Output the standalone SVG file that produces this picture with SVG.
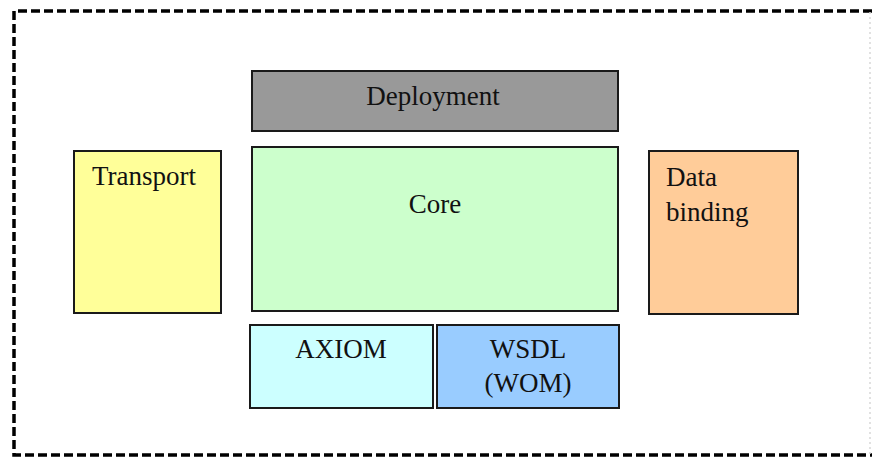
<svg xmlns="http://www.w3.org/2000/svg" width="874" height="457" viewBox="0 0 874 457">
  <style>
    .box { stroke: #1a1a1a; stroke-width: 2; }
    .lbl { font-family: "Liberation Serif", "Times New Roman", "DejaVu Serif", serif; font-size: 27px; fill: #111; }
    .mid { text-anchor: middle; }
    .frame { fill: none; stroke: #000; stroke-width: 3.5; stroke-dasharray: 9 4; }
  </style>
  <rect width="874" height="457" fill="#ffffff"/>

  <!-- outer dashed boundary -->
  <path class="frame" d="M872,11 H14 V455 H872"/>
  <line x1="870" y1="12" x2="870" y2="454" stroke="#d8d8d8" stroke-width="1.5" stroke-dasharray="2 3"/>

  <g id="deployment">
    <rect class="box" x="252" y="71" width="366" height="60" fill="#999999"/>
    <text class="lbl mid" x="433" y="105">Deployment</text>
  </g>

  <g id="core">
    <rect class="box" x="252" y="147" width="366" height="164" fill="#ccffcc"/>
    <text class="lbl mid" x="435" y="213">Core</text>
  </g>

  <g id="transport">
    <rect class="box" x="74" y="151" width="147" height="162" fill="#ffff99"/>
    <text class="lbl" x="92" y="185">Transport</text>
  </g>

  <g id="data-binding">
    <rect class="box" x="649" y="151" width="149" height="163" fill="#ffcc99"/>
    <text class="lbl" x="666" y="186">Data</text>
    <text class="lbl" x="666" y="221">binding</text>
  </g>

  <g id="axiom">
    <rect class="box" x="250" y="325" width="183" height="83" fill="#ccffff"/>
    <text class="lbl mid" x="341" y="358">AXIOM</text>
  </g>

  <g id="wsdl">
    <rect class="box" x="437" y="325" width="182" height="83" fill="#99ccff"/>
    <text class="lbl mid" x="528" y="358">WSDL</text>
    <text class="lbl mid" x="528" y="392">(WOM)</text>
  </g>

  <g id="connectors"/>
</svg>
